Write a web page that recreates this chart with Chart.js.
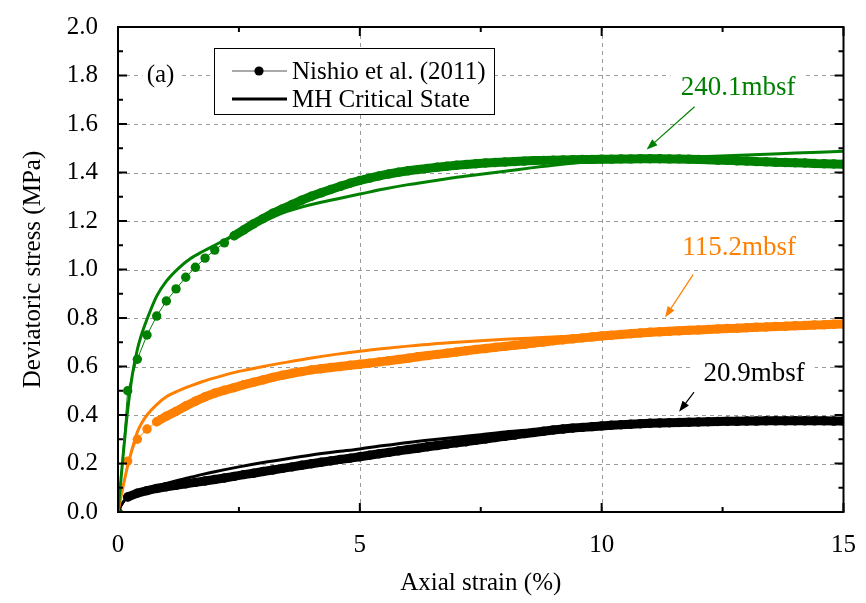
<!DOCTYPE html>
<html>
<head>
<meta charset="utf-8">
<script src="https://cdn.jsdelivr.net/npm/chart.js@4.4.0/dist/chart.umd.min.js"></script>
<style>
  html, body { margin: 0; padding: 0; background: #fff; }
  #wrap { width: 866px; height: 603px; }
</style>
</head>
<body>
<div id="wrap"><canvas id="chart" width="866" height="603"></canvas></div>
<script>
// axial strain (%) of the test records
const strainExp = [
  0, 0.2, 0.4, 0.6, 0.8, 1.0, 1.2, 1.4, 1.6, 1.8,
  2.0, 2.2, 2.4, 2.6, 2.8, 3.0, 3.2, 3.4, 3.6, 3.8,
  4.0, 4.2, 4.4, 4.6, 4.8, 5.0, 5.2, 5.4, 5.6, 5.8,
  6.0, 6.2, 6.4, 6.6, 6.8, 7.0, 7.2, 7.4, 7.6, 7.8,
  8.0, 8.2, 8.4, 8.6, 8.8, 9.0, 9.2, 9.4, 9.6, 9.8,
  10.0, 10.2, 10.4, 10.6, 10.8, 11.0, 11.2, 11.4, 11.6, 11.8,
  12.0, 12.2, 12.4, 12.6, 12.8, 13.0, 13.2, 13.4, 13.6, 13.8,
  14.0, 14.2, 14.4, 14.6, 14.8, 15.0
];

// deviatoric stress (MPa), Nishio et al. (2011)
const exp240 = [
  0, 0.50, 0.63, 0.73, 0.808, 0.87, 0.92, 0.968, 1.009, 1.047,
  1.08, 1.11, 1.139, 1.163, 1.188, 1.21, 1.232, 1.25, 1.268, 1.286,
  1.302, 1.316, 1.33, 1.343, 1.356, 1.367, 1.377, 1.386, 1.394, 1.401,
  1.407, 1.412, 1.417, 1.422, 1.426, 1.43, 1.433, 1.436, 1.439, 1.441,
  1.443, 1.445, 1.447, 1.449, 1.45, 1.451, 1.452, 1.453, 1.454, 1.454,
  1.455, 1.455, 1.456, 1.456, 1.457, 1.457, 1.457, 1.456, 1.456, 1.455,
  1.454, 1.453, 1.451, 1.45, 1.448, 1.447, 1.445, 1.444, 1.442, 1.441,
  1.44, 1.439, 1.437, 1.436, 1.435, 1.434
];
const exp115 = [
  0, 0.21, 0.30, 0.342, 0.372, 0.395, 0.415, 0.437, 0.457, 0.475,
  0.49, 0.502, 0.513, 0.525, 0.535, 0.545, 0.555, 0.564, 0.572, 0.579,
  0.586, 0.591, 0.596, 0.6, 0.605, 0.609, 0.614, 0.619, 0.624, 0.629,
  0.634, 0.64, 0.645, 0.65, 0.655, 0.66, 0.665, 0.67, 0.674, 0.679,
  0.683, 0.688, 0.692, 0.697, 0.701, 0.706, 0.71, 0.714, 0.718, 0.722,
  0.726, 0.729, 0.732, 0.735, 0.738, 0.741, 0.743, 0.745, 0.747, 0.749,
  0.751, 0.753, 0.755, 0.757, 0.758, 0.76, 0.762, 0.763, 0.765, 0.766,
  0.768, 0.769, 0.771, 0.772, 0.774, 0.775
];
const exp21 = [
  0, 0.062, 0.078, 0.088, 0.097, 0.104, 0.11, 0.116, 0.122, 0.128,
  0.134, 0.14, 0.147, 0.154, 0.16, 0.167, 0.173, 0.18, 0.186, 0.193,
  0.199, 0.205, 0.211, 0.217, 0.222, 0.228, 0.234, 0.24, 0.246, 0.252,
  0.258, 0.263, 0.269, 0.274, 0.28, 0.285, 0.29, 0.296, 0.301, 0.307,
  0.312, 0.317, 0.323, 0.328, 0.333, 0.338, 0.342, 0.346, 0.349, 0.352,
  0.355, 0.358, 0.36, 0.362, 0.364, 0.366, 0.367, 0.368, 0.369, 0.37,
  0.371, 0.372, 0.373, 0.374, 0.374, 0.375, 0.375, 0.376, 0.376, 0.376,
  0.376, 0.376, 0.376, 0.376, 0.375, 0.375
];

// MH critical state model
const strainModel = [0, 0.1, 0.2, 0.3, 0.4, 0.5, 0.6, 0.8, 1.0, 1.25, 1.5, 1.75, 2.0,
  2.5, 3, 3.5, 4, 4.5, 5, 5.5, 6, 6.5, 7, 7.5, 8, 8.5, 9, 10, 11, 12, 13, 14, 15];
const model240 = [0, 0.22, 0.42, 0.57, 0.67, 0.74, 0.795, 0.89, 0.952, 1.005, 1.045, 1.074, 1.10,
  1.152, 1.198, 1.24, 1.268, 1.29, 1.311, 1.332, 1.35, 1.365, 1.38, 1.393, 1.405, 1.418, 1.43,
  1.448, 1.458, 1.465, 1.472, 1.48, 1.488];
const model115 = [0, 0.1, 0.19, 0.265, 0.33, 0.37, 0.4, 0.443, 0.475, 0.50, 0.52, 0.538, 0.553,
  0.58, 0.6, 0.618, 0.635, 0.65, 0.663, 0.674, 0.684, 0.693, 0.70, 0.706, 0.712, 0.717, 0.722,
  0.731, 0.74, 0.748, 0.758, 0.768, 0.778];
const model21 = [0, 0.04, 0.06, 0.072, 0.08, 0.088, 0.095, 0.107, 0.118, 0.131, 0.143, 0.155, 0.166,
  0.186, 0.204, 0.22, 0.235, 0.248, 0.26, 0.274, 0.287, 0.298, 0.308, 0.319, 0.33, 0.338, 0.345,
  0.356, 0.364, 0.37, 0.374, 0.377, 0.38];

const GREEN = '#008000';
const ORANGE = '#ff8000';
const BLACK = '#000000';
const SERIF = "'Liberation Serif', 'Times New Roman', serif";

// depth labels with arrows (data coordinates)
const depthLabels = [
  { text: '240.1mbsf', color: GREEN, at: [12.82, 1.75], from: [11.92, 1.671], to: [10.93, 1.495] },
  { text: '115.2mbsf', color: ORANGE, at: [12.84, 1.088], from: [11.89, 0.979], to: [11.31, 0.802] },
  { text: '20.9mbsf', color: BLACK, at: [13.15, 0.57], from: [11.91, 0.494], to: [11.6, 0.413] }
];

function pts(xs, ys) {
  return xs.map((x, i) => ({ x: x, y: ys[i] }));
}

// where markers crowd together the record reads as one solid band
function bandWidth(ctx) {
  const d = Math.hypot(ctx.p1.x - ctx.p0.x, ctx.p1.y - ctx.p0.y);
  return d < 11.5 ? 9 : 1;
}

function expSet(ys, color) {
  return {
    data: pts(strainExp, ys),
    borderColor: color,
    backgroundColor: color,
    borderWidth: 1,
    borderCapStyle: 'round',
    borderJoinStyle: 'round',
    segment: { borderWidth: bandWidth },
    pointRadius: 4.7,
    pointBorderWidth: 0,
    pointBackgroundColor: color,
    order: 2,
    clip: 0
  };
}

function modelSet(ys, color) {
  return {
    data: pts(strainModel, ys),
    borderColor: color,
    borderWidth: 3,
    pointRadius: 0,
    cubicInterpolationMode: 'monotone',
    order: 1,
    clip: 0
  };
}

function arrow(ctx, x1, y1, x2, y2, color) {
  const ang = Math.atan2(y2 - y1, x2 - x1);
  const len = 11, half = 4;
  ctx.strokeStyle = color;
  ctx.fillStyle = color;
  ctx.lineWidth = 1.2;
  ctx.beginPath();
  ctx.moveTo(x1, y1);
  ctx.lineTo(x2 - Math.cos(ang) * len * 0.8, y2 - Math.sin(ang) * len * 0.8);
  ctx.stroke();
  ctx.beginPath();
  ctx.moveTo(x2, y2);
  ctx.lineTo(x2 - Math.cos(ang) * len - Math.sin(ang) * half, y2 - Math.sin(ang) * len + Math.cos(ang) * half);
  ctx.lineTo(x2 - Math.cos(ang) * len + Math.sin(ang) * half, y2 - Math.sin(ang) * len - Math.cos(ang) * half);
  ctx.closePath();
  ctx.fill();
}

// dashed grid under the curves
const dashedGrid = {
  id: 'dashedGrid',
  beforeDatasetsDraw(chart) {
    const { ctx, chartArea: a, scales: { x, y } } = chart;
    ctx.save();
    ctx.strokeStyle = '#9a9a9a';
    ctx.lineWidth = 1;
    ctx.setLineDash([4, 4]);
    ctx.beginPath();
    [5, 10].forEach(v => {
      const px = Math.round(x.getPixelForValue(v)) + 0.5;
      ctx.moveTo(px, a.top); ctx.lineTo(px, a.bottom);
    });
    for (let k = 1; k < 10; k++) {
      const py = Math.round(y.getPixelForValue(k / 5)) + 0.5;
      ctx.moveTo(a.left, py); ctx.lineTo(a.right, py);
    }
    ctx.stroke();
    ctx.restore();
  }
};

// frame, inward ticks, labels and legend box
const decorations = {
  id: 'decorations',
  afterDraw(chart) {
    const { ctx, chartArea: a, scales: { x, y } } = chart;
    ctx.save();

    // depth labels
    ctx.font = '27px ' + SERIF;
    ctx.textAlign = 'center';
    ctx.textBaseline = 'middle';
    depthLabels.forEach(l => {
      const px = x.getPixelForValue(l.at[0]);
      const py = y.getPixelForValue(l.at[1]);
      const w = ctx.measureText(l.text).width;
      ctx.fillStyle = '#fff';
      ctx.fillRect(px - w / 2 - 10, py - 20, w + 20, 40);
      ctx.fillStyle = l.color;
      ctx.fillText(l.text, px, py);
      arrow(ctx, x.getPixelForValue(l.from[0]), y.getPixelForValue(l.from[1]),
        x.getPixelForValue(l.to[0]), y.getPixelForValue(l.to[1]), l.color);
    });

    // panel tag
    ctx.font = '25px ' + SERIF;
    const ax = x.getPixelForValue(0.88), ay = y.getPixelForValue(1.8);
    const aw = ctx.measureText('(a)').width;
    ctx.fillStyle = '#fff';
    ctx.fillRect(ax - aw / 2 - 4, ay - 14, aw + 8, 28);
    ctx.fillStyle = '#000';
    ctx.fillText('(a)', ax, ay);

    // legend
    const lx = a.left + 96, ly = a.top + 21, lw = 280, lh = 66;
    ctx.fillStyle = '#fff';
    ctx.fillRect(lx, ly, lw, lh);
    ctx.strokeStyle = '#000';
    ctx.lineWidth = 1;
    ctx.strokeRect(lx + 0.5, ly + 0.5, lw, lh);
    const r1 = ly + 23, r2 = ly + 51;
    ctx.strokeStyle = '#555';
    ctx.lineWidth = 1;
    ctx.beginPath(); ctx.moveTo(lx + 18, r1); ctx.lineTo(lx + 73, r1); ctx.stroke();
    ctx.fillStyle = '#000';
    ctx.beginPath(); ctx.arc(lx + 45, r1, 4.6, 0, Math.PI * 2); ctx.fill();
    ctx.strokeStyle = '#000';
    ctx.lineWidth = 3;
    ctx.beginPath(); ctx.moveTo(lx + 18, r2); ctx.lineTo(lx + 73, r2); ctx.stroke();
    ctx.textAlign = 'left';
    ctx.fillText('Nishio et al. (2011)', lx + 78, r1 + 1);
    ctx.fillText('MH Critical State', lx + 78, r2 + 1);

    // inward ticks on all four sides
    ctx.strokeStyle = '#000';
    ctx.lineWidth = 2;
    ctx.beginPath();
    for (let v = 0; v <= 15.001; v += 2.5) {
      const px = x.getPixelForValue(v);
      const len = (Math.round(v * 10) % 50 === 0) ? 9 : 5;
      ctx.moveTo(px, a.bottom); ctx.lineTo(px, a.bottom - len);
      ctx.moveTo(px, a.top); ctx.lineTo(px, a.top + len);
    }
    for (let k = 0; k <= 20; k++) {
      const py = y.getPixelForValue(k / 10);
      const len = (k % 2 === 0) ? 9 : 5;
      ctx.moveTo(a.left, py); ctx.lineTo(a.left + len, py);
      ctx.moveTo(a.right, py); ctx.lineTo(a.right - len, py);
    }
    ctx.stroke();
    ctx.strokeRect(a.left, a.top, a.right - a.left, a.bottom - a.top);
    ctx.restore();
  }
};

const whiteBg = {
  id: 'whiteBg',
  beforeDraw(chart) {
    const ctx = chart.ctx;
    ctx.save();
    ctx.fillStyle = '#fff';
    ctx.fillRect(0, 0, chart.width, chart.height);
    ctx.restore();
  }
};

new Chart(document.getElementById('chart'), {
  type: 'line',
  data: {
    datasets: [
      modelSet(model240, GREEN),
      modelSet(model115, ORANGE),
      modelSet(model21, BLACK),
      expSet(exp240, GREEN),
      expSet(exp115, ORANGE),
      expSet(exp21, BLACK)
    ]
  },
  options: {
    responsive: false,
    animation: false,
    devicePixelRatio: 1,
    layout: { padding: { left: 0, right: 20, top: 21, bottom: 0 } },
    plugins: {
      legend: { display: false },
      tooltip: { enabled: false }
    },
    scales: {
      x: {
        type: 'linear',
        min: 0,
        max: 15,
        border: { display: false },
        grid: { display: false },
        ticks: {
          stepSize: 5,
          padding: 10,
          color: '#000',
          font: { family: SERIF, size: 25 },
          maxRotation: 0
        },
        title: {
          display: true,
          text: 'Axial strain (%)',
          color: '#000',
          font: { family: SERIF, size: 25 },
          padding: { top: 0, bottom: 5 }
        },
        afterFit(scale) { scale.height = 91; }
      },
      y: {
        type: 'linear',
        min: 0,
        max: 2.0,
        border: { display: false },
        grid: { display: false },
        ticks: {
          stepSize: 0.2,
          padding: 12,
          color: '#000',
          font: { family: SERIF, size: 25 },
          callback: v => v.toFixed(1)
        },
        title: {
          display: true,
          text: 'Deviatoric stress (MPa)',
          color: '#000',
          font: { family: SERIF, size: 25 },
          padding: { top: 18, bottom: 0 }
        },
        afterFit(scale) { scale.width = 118; }
      }
    }
  },
  plugins: [whiteBg, dashedGrid, decorations]
});
</script>
</body>
</html>
